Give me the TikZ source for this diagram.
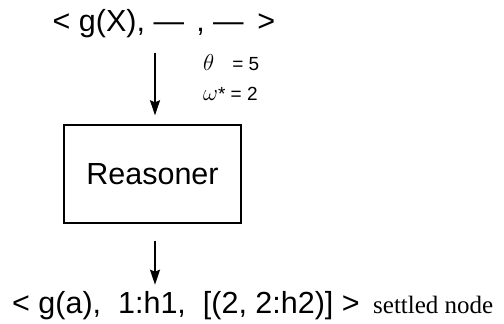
\RequirePackage{fix-cm}
\documentclass[tikz,border=0pt]{standalone}
\usepackage{fontspec}
\setmainfont{Liberation Sans}
\newfontfamily\notefont{Liberation Serif}
\usetikzlibrary{arrows.meta,positioning}
\newcommand{\bigmath}[1]{{\fontsize{23}{23}\selectfont$#1$}}

\begin{document}
\begin{tikzpicture}[x=1pt,y=-1pt,
  txt/.style={inner sep=0pt,font=\fontsize{30.5}{33}\selectfont},
  param/.style={inner sep=0pt,anchor=base west,font=\fontsize{19}{21}\selectfont},
  reasoner/.style={draw,line width=1.4pt,minimum width=177pt,minimum height=98pt,inner sep=0pt,font=\fontsize{30.5}{33}\selectfont},
  arrow/.style={-{Stealth[length=15pt,width=10pt,inset=2pt]},line width=1.8pt}]
\useasboundingbox (0,0) rectangle (504,324);
\node[txt,anchor=base] (query) at (164,31) {< g(X), —\hspace{0.4em}, —\hspace{0.45em}>};
\node[reasoner] (box) at (152.5,174) {Reasoner};
\node[txt,anchor=base west] (answer) at (12,313) {< g(a),\ \ 1:h1,\ \ [(2, 2:h2)] >};
\node[anchor=base west,inner sep=0pt,font=\notefont\fontsize{25}{28}\selectfont] (note) at (373,313) {settled node};
\node[param] (theta) at (203,70) {\bigmath{\theta}\hspace{18pt}= 5};
\node[param] (omega) at (203,100) {\bigmath{\omega}* = 2};
% input and output of the reasoner
\draw[arrow,shorten <=15pt] ([xshift=2.5pt]box.north |- query.south) -- ([xshift=2.5pt,yshift=9pt]box.north);
\draw[arrow,shorten <=17pt,shorten >=6pt] ([xshift=2.5pt]box.south) -- ([xshift=2.5pt]box.south |- answer.north);
\end{tikzpicture}
\end{document}
